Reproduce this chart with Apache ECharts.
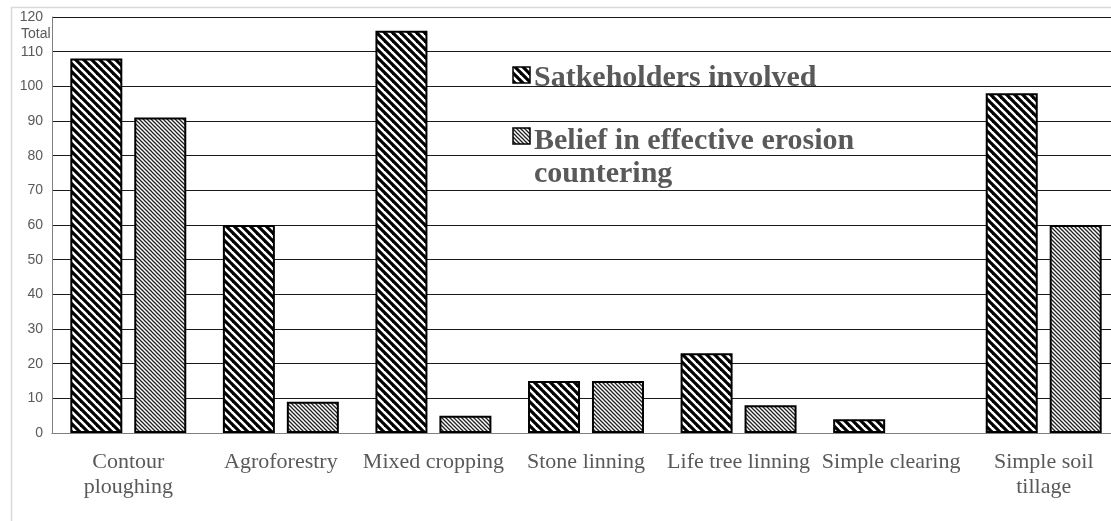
<!DOCTYPE html>
<html>
<head>
<meta charset="utf-8">
<script src="https://cdn.jsdelivr.net/npm/echarts@6/dist/echarts.min.js"></script>
<style>
  html, body { margin: 0; padding: 0; background: #fff; overflow: hidden; width: 1111px; height: 521px; }
  #chart { width: 1140px; height: 521px; }
</style>
</head>
<body>
<div id="chart"></div>
<script>
// ---- Data ----
const categories = ['Contour\nploughing', 'Agroforestry', 'Mixed cropping', 'Stone linning', 'Life tree linning', 'Simple clearing', 'Simple soil\ntillage'];
const stakeholders = [108, 60, 116, 15, 23, 4, 98];
const belief = [91, 9, 5, 15, 8, 0, 60];
const seriesNames = ['Satkeholders involved', 'Belief in effective erosion', 'countering'];
const yTicks = { min: 0, max: 120, interval: 10 };

function stripes(size, width, color) {
  const c = document.createElement('canvas');
  c.width = size; c.height = size;
  const ctx = c.getContext('2d');
  ctx.fillStyle = '#fff';
  ctx.fillRect(0, 0, size, size);
  ctx.strokeStyle = color;
  ctx.lineWidth = width;
  ctx.lineCap = 'square';
  for (let k = -1; k <= 1; k++) {
    ctx.beginPath();
    ctx.moveTo(k * size, 0);
    ctx.lineTo(k * size + size, size);
    ctx.stroke();
  }
  return c;
}
const pat1 = { image: stripes(8, 3.2, '#000'), repeat: 'repeat' };
const pat2 = { image: stripes(4, 1.3, '#222'), repeat: 'repeat' };

function toData(arr) {
  return arr.map(v => v === 0 ? { value: v, itemStyle: { borderWidth: 0 } } : v);
}

const chart = echarts.init(document.getElementById('chart'), null, { renderer: 'canvas' });
const textColor = '#595959';
const legendFont = 'bold 30px "Liberation Serif"';
chart.setOption({
  animation: false,
  backgroundColor: '#fff',
  grid: { left: 52, top: 17, width: 1068, height: 416, containLabel: false },
  xAxis: {
    type: 'category',
    data: categories,
    axisTick: { show: false },
    axisLine: { lineStyle: { color: '#7f7f7f', width: 1 } },
    axisLabel: { color: textColor, fontFamily: 'Liberation Serif', fontSize: 22, lineHeight: 25, margin: 17, interval: 0 }
  },
  yAxis: {
    type: 'value',
    min: yTicks.min, max: yTicks.max, interval: yTicks.interval,
    axisLine: { show: true, lineStyle: { color: '#7f7f7f', width: 1 } },
    axisTick: { show: false },
    splitLine: { lineStyle: { color: '#1a1a1a', width: 1 } },
    axisLabel: { color: textColor, fontFamily: 'Liberation Sans', fontSize: 14, margin: 9 }
  },
  graphic: [
    { type: 'rect', left: 9, top: 5, shape: { width: 1300, height: 700 }, style: { fill: 'none', stroke: '#d9d9d9', lineWidth: 1.5 }, silent: true, z: -1 },
    { type: 'text', x: 21, y: 34, style: { text: 'Total', fill: textColor, font: '14px "Liberation Sans"', verticalAlign: 'middle' }, z: 10 },
    { type: 'rect', shape: { x: 513, y: 67, width: 17, height: 16 }, style: { fill: pat1, stroke: '#000', lineWidth: 1.5 }, z: 10 },
    { type: 'text', x: 534, y: 78, style: { text: seriesNames[0], fill: textColor, font: legendFont, verticalAlign: 'middle' }, z: 10 },
    { type: 'rect', shape: { x: 513, y: 128, width: 17, height: 16 }, style: { fill: pat2, stroke: '#000', lineWidth: 1.5 }, z: 10 },
    { type: 'text', x: 534, y: 141, style: { text: seriesNames[1], fill: textColor, font: legendFont, verticalAlign: 'middle' }, z: 10 },
    { type: 'text', x: 534, y: 174, style: { text: seriesNames[2], fill: textColor, font: legendFont, verticalAlign: 'middle' }, z: 10 }
  ],
  series: [
    {
      name: seriesNames[0], type: 'bar', data: toData(stakeholders),
      barWidth: 52, barGap: '23%',
      itemStyle: { color: pat1, borderColor: '#000', borderWidth: 2 }
    },
    {
      name: seriesNames[1] + ' ' + seriesNames[2], type: 'bar', data: toData(belief),
      barWidth: 52,
      itemStyle: { color: pat2, borderColor: '#000', borderWidth: 2 }
    }
  ]
});
</script>
</body>
</html>
